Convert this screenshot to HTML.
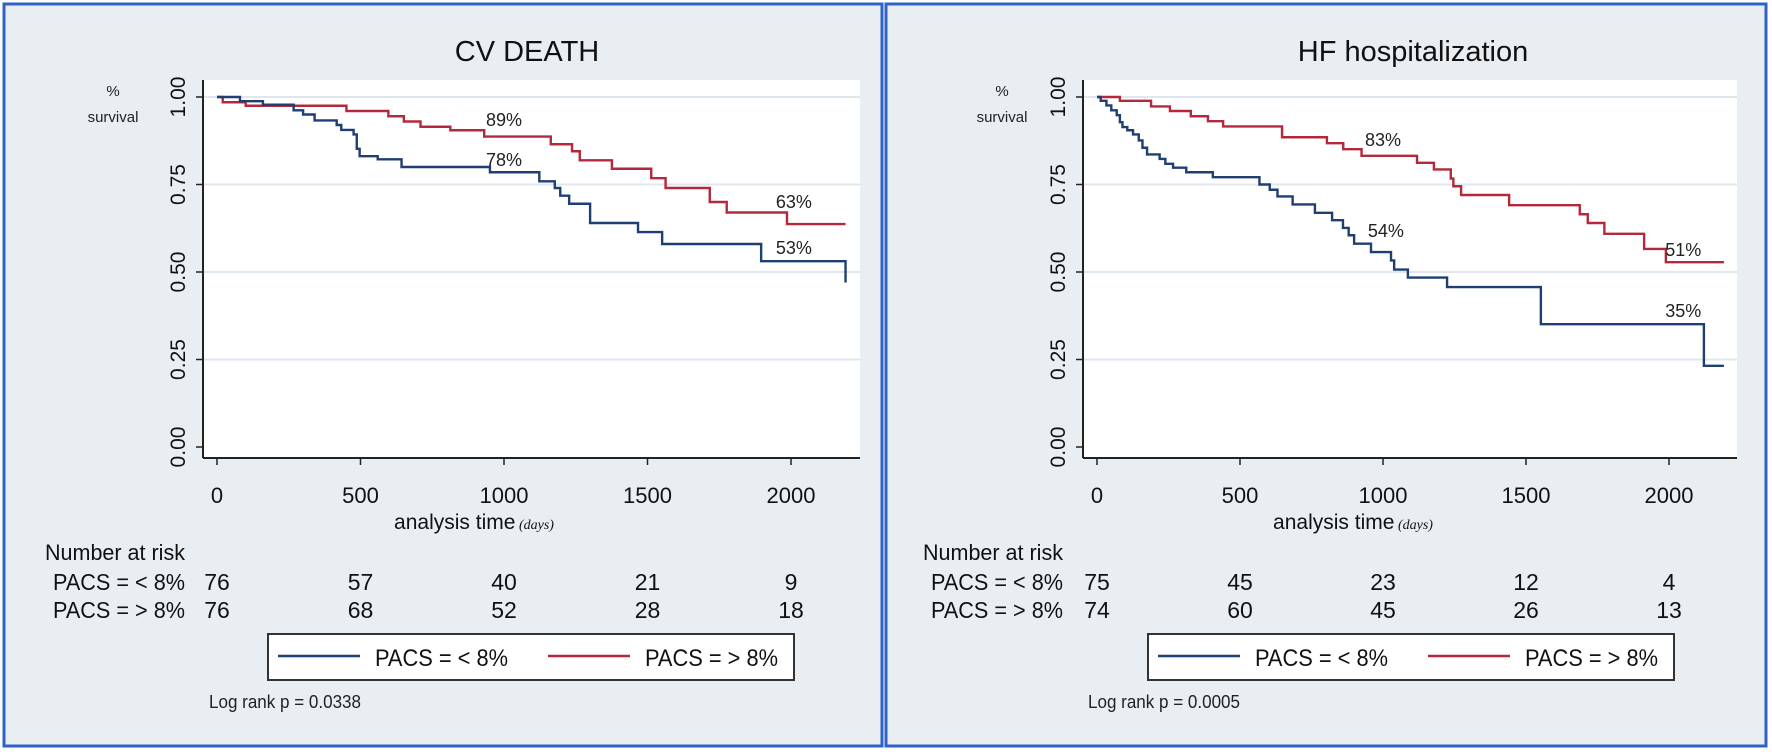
<!DOCTYPE html>
<html><head><meta charset="utf-8"><style>
html,body{margin:0;padding:0;background:#fff;}
svg{display:block;font-family:"Liberation Sans",sans-serif;}
</style></head><body>
<svg id="svg" width="1772" height="752" viewBox="0 0 1772 752" xmlns="http://www.w3.org/2000/svg"></svg>
<script>
// ---------- DATA ----------
const xTicks = [0, 500, 1000, 1500, 2000];
const yTicks = [0, 0.25, 0.5, 0.75, 1.0];
const yTickLabels = ["0.00", "0.25", "0.50", "0.75", "1.00"];
const seriesNames = ["PACS = < 8%", "PACS = > 8%"];

// CV death
const cvLowDays = [0, 80, 160, 267, 300, 340, 417, 433, 476, 487, 497, 560, 643, 951, 1123, 1177, 1196, 1227, 1300, 1467, 1551, 1896, 2190];
const cvLowSurv = [1, 0.988, 0.978, 0.962, 0.95, 0.933, 0.92, 0.906, 0.893, 0.852, 0.831, 0.822, 0.80, 0.785, 0.759, 0.74, 0.718, 0.695, 0.64, 0.614, 0.58, 0.531, 0.47];
const cvHighDays = [0, 20, 100, 451, 597, 651, 709, 813, 931, 1163, 1237, 1264, 1376, 1513, 1563, 1717, 1776, 1986, 2190];
const cvHighSurv = [1, 0.985, 0.975, 0.96, 0.945, 0.93, 0.915, 0.905, 0.887, 0.865, 0.845, 0.819, 0.795, 0.768, 0.74, 0.70, 0.67, 0.637, 0.637];
const cvRiskLow = [76, 57, 40, 21, 9];
const cvRiskHigh = [76, 68, 52, 28, 18];
const cvLabels = ["89%", "78%", "63%", "53%"];
const cvLabelDays = [1000, 1000, 2010, 2010];
const cvLabelSurv = [0.935, 0.82, 0.70, 0.568];

// HF hospitalization
const hfLowDays = [0, 13, 33, 50, 69, 80, 89, 106, 126, 146, 159, 175, 219, 239, 266, 312, 405, 568, 604, 631, 684, 762, 822, 860, 880, 899, 958, 1028, 1039, 1087, 1224, 1552, 2122, 2192];
const hfLowSurv = [1, 0.989, 0.976, 0.962, 0.948, 0.928, 0.914, 0.905, 0.893, 0.876, 0.855, 0.836, 0.823, 0.809, 0.798, 0.785, 0.771, 0.75, 0.735, 0.716, 0.693, 0.669, 0.648, 0.626, 0.605, 0.581, 0.557, 0.533, 0.507, 0.484, 0.457, 0.351, 0.232, 0.232];
const hfHighDays = [0, 80, 189, 255, 328, 388, 441, 647, 804, 861, 925, 1119, 1178, 1237, 1246, 1273, 1441, 1688, 1716, 1774, 1913, 1989, 2192];
const hfHighSurv = [1, 0.989, 0.973, 0.96, 0.945, 0.931, 0.916, 0.885, 0.868, 0.851, 0.832, 0.812, 0.793, 0.767, 0.745, 0.72, 0.691, 0.665, 0.64, 0.609, 0.566, 0.528, 0.528];
const hfRiskLow = [75, 45, 23, 12, 4];
const hfRiskHigh = [74, 60, 45, 26, 13];
const hfLabels = ["83%", "54%", "51%", "35%"];
const hfLabelDays = [1000, 1010, 2050, 2050];
const hfLabelSurv = [0.877, 0.617, 0.563, 0.389];

// ---------- DRAW ----------
const NS = "http://www.w3.org/2000/svg";
const svg = document.getElementById("svg");
function mk(tag, attrs, parent, text) {
  const e = document.createElementNS(NS, tag);
  for (const k in attrs) e.setAttribute(k, attrs[k]);
  if (text !== undefined) e.textContent = text;
  (parent || svg).appendChild(e);
  return e;
}
const BLUE = "#1f3f73", RED = "#b3283a";

function panel(cfg) {
  const g = mk("g", {});
  
  
  const bg = mk("rect", {x: cfg.px, y: 4, width: cfg.pw, height: 742, fill: "#e9eef2", stroke: "#2f62c8", "stroke-width": 3}, g);
  
  
  const sx = d => cfg.x0 + d * cfg.k;
  const sy = v => 447 - 350 * v;
  const plot = mk("rect", {x: cfg.ax, y: 80, width: cfg.right - cfg.ax, height: 378, fill: "#ffffff"}, g);
  
  
  const title = mk("text", {x: cfg.tx, y: 61, "font-size": 29, "text-anchor": "middle", fill: "#111"}, g, cfg.title);
  
  
  yTicks.forEach((v, i) => {
    if (v > 0) {
      const gl = mk("line", {x1: cfg.ax, x2: cfg.right, y1: sy(v), y2: sy(v), stroke: "#dfe6ed", "stroke-width": 2}, g);
      
      
    }
    mk("line", {x1: cfg.ax - 7, x2: cfg.ax, y1: sy(v), y2: sy(v), stroke: "#222", "stroke-width": 1.5}, g);
    const t = mk("text", {x: cfg.ax - 18, y: sy(v), "font-size": 21, "text-anchor": "middle", fill: "#111",
      transform: `rotate(-90 ${cfg.ax - 18} ${sy(v)})`}, g, yTickLabels[i]);
    
    
  });
  mk("line", {x1: cfg.ax, x2: cfg.ax, y1: 80, y2: 458, stroke: "#222", "stroke-width": 2}, g);
  mk("line", {x1: cfg.ax, x2: cfg.right, y1: 458, y2: 458, stroke: "#222", "stroke-width": 2}, g);
  xTicks.forEach(d => {
    mk("line", {x1: sx(d), x2: sx(d), y1: 458, y2: 465, stroke: "#222", "stroke-width": 1.5}, g);
    const t = mk("text", {x: sx(d), y: 503, "font-size": 22, "text-anchor": "middle", fill: "#111"}, g, String(d));
    
    
  });
  const yl1 = mk("text", {x: cfg.yl, y: 96, "font-size": 15, "text-anchor": "middle", fill: "#222"}, g, "%");
  
  
  mk("text", {x: cfg.yl, y: 122, "font-size": 15, "text-anchor": "middle", fill: "#222"}, g, "survival");
  const xt = mk("text", {x: sx(1000) - 30, y: 529, "font-size": 21, "text-anchor": "middle", fill: "#111"}, g);
  
  
  mk("tspan", {}, xt, "analysis time");
  mk("tspan", {"font-size": 14, "font-style": "italic", "font-family": "Liberation Serif, serif"}, xt, " (days)");
  function step(days, surv, color, nm) {
    let d = `M${sx(days[0])},${sy(surv[0])}`;
    for (let i = 1; i < days.length; i++) d += ` H${sx(days[i])} V${sy(surv[i])}`;
    const p = mk("path", {d: d, fill: "none", stroke: color, "stroke-width": 2.4}, g);
    
    
  }
  step(cfg.hiD, cfg.hiS, RED, 'curve-pacs-high');
  step(cfg.loD, cfg.loS, BLUE, 'curve-pacs-low');
  cfg.lab.forEach((s, i) => {
    const t = mk("text", {x: sx(cfg.labD[i]), y: sy(cfg.labS[i]) + 6, "font-size": 18, "text-anchor": "middle", fill: "#222"}, g, s);
    
    
  });
  const nr = mk("text", {x: cfg.rx - 8, y: 560, "font-size": 22, fill: "#111", textLength: 140, lengthAdjust: "spacingAndGlyphs"}, g, "Number at risk");
  
  
  [[cfg.rLow, 590, seriesNames[0]], [cfg.rHigh, 618, seriesNames[1]]].forEach(r => {
    const l = mk("text", {x: cfg.rx, y: r[1], "font-size": 23, fill: "#111", textLength: 132, lengthAdjust: "spacingAndGlyphs"}, g, r[2]);
    
    
    r[0].forEach((n, i) => {
      const t = mk("text", {x: sx(xTicks[i]), y: r[1], "font-size": 23, "text-anchor": "middle", fill: "#111"}, g, String(n));
      
      
    });
  });
  const lg = mk("g", {}, g);
  
  
  const lx = cfg.lx;
  mk("rect", {x: lx, y: 634, width: 526, height: 46, fill: "#fff", stroke: "#333", "stroke-width": 2}, lg);
  const e1 = mk("line", {x1: lx + 10, x2: lx + 92, y1: 656, y2: 656, stroke: BLUE, "stroke-width": 2.5}, lg);
  
  
  mk("text", {x: lx + 107, y: 666, "font-size": 24, fill: "#111", textLength: 133, lengthAdjust: "spacingAndGlyphs"}, lg, seriesNames[0]);
  const e2 = mk("line", {x1: lx + 280, x2: lx + 362, y1: 656, y2: 656, stroke: RED, "stroke-width": 2.5}, lg);
  
  
  mk("text", {x: lx + 377, y: 666, "font-size": 24, fill: "#111", textLength: 133, lengthAdjust: "spacingAndGlyphs"}, lg, seriesNames[1]);
  const lr = mk("text", {x: cfg.lrx, y: 708, "font-size": 18, fill: "#222", textLength: 152, lengthAdjust: "spacingAndGlyphs"}, g, cfg.logrank);
  
  
}

panel({name: 'cv-death-panel', px: 4, pw: 878, ax: 203, right: 860, x0: 217, k: 0.287, tx: 527, yl: 113,
  title: "CV DEATH", loD: cvLowDays, loS: cvLowSurv, hiD: cvHighDays, hiS: cvHighSurv,
  lab: cvLabels, labD: cvLabelDays, labS: cvLabelSurv, rLow: cvRiskLow, rHigh: cvRiskHigh,
  rx: 53, lx: 268, lrx: 209, logrank: "Log rank p = 0.0338"});
panel({name: 'hf-hospitalization-panel', px: 886, pw: 880, ax: 1083, right: 1737, x0: 1097, k: 0.286, tx: 1413, yl: 1002,
  title: "HF hospitalization", loD: hfLowDays, loS: hfLowSurv, hiD: hfHighDays, hiS: hfHighSurv,
  lab: hfLabels, labD: hfLabelDays, labS: hfLabelSurv, rLow: hfRiskLow, rHigh: hfRiskHigh,
  rx: 931, lx: 1148, lrx: 1088, logrank: "Log rank p = 0.0005"});
</script>
</body></html>
